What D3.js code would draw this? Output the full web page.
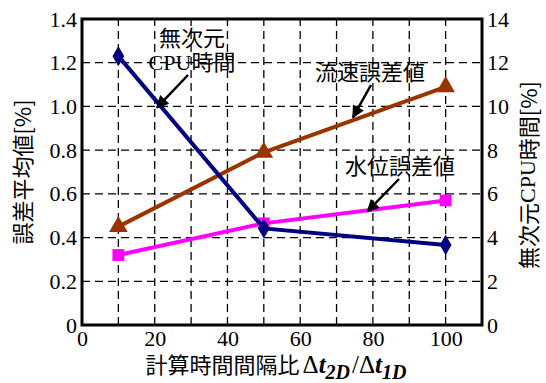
<!DOCTYPE html>
<html>
<head>
<meta charset="utf-8">
<script src="https://cdn.jsdelivr.net/npm/d3@7"></script>
<style>
  html, body { margin: 0; padding: 0; background: #fff; }
  svg { display: block; }
</style>
</head>
<body>
<svg id="chart" width="546" height="383"></svg>
<script>
// Time-step ratio Δt2D/Δt1D
const ratios = [10, 50, 100];
// Mean error [%] (left axis)
const velocityError = [0.45, 0.79, 1.09];   // 流速誤差値
const levelError = [0.32, 0.465, 0.57];     // 水位誤差値
// Dimensionless CPU time [%] (right axis)
const cpuTime = [12.3, 4.42, 3.66];         // 無次元CPU時間

const xTicks = [0, 20, 40, 60, 80, 100];
const xGrid = [10, 20, 30, 40, 50, 60, 70, 80, 90, 100];
const yLeftTicks = [0, 0.2, 0.4, 0.6, 0.8, 1.0, 1.2, 1.4];
const yRightTicks = [0, 2, 4, 6, 8, 10, 12, 14];

const SERIF = '"Liberation Serif", "Times New Roman", Times, serif';
const JP = '"Noto Sans CJK JP", "Noto Sans", sans-serif';

const svg = d3.select("#chart");
const margin = { left: 82, top: 19, right: 64, bottom: 58 };
const W = 546, H = 383;
const x0 = margin.left, x1 = W - margin.right, y0 = H - margin.bottom, y1 = margin.top;

const x = d3.scaleLinear().domain([0, 110]).range([x0, x1]);
const yL = d3.scaleLinear().domain([0, 1.4]).range([y0, y1]);
const yR = d3.scaleLinear().domain([0, 14]).range([y0, y1]);

// dashed grid
const grid = svg.append("g").attr("stroke", "#000").attr("stroke-width", 1.3)
  .attr("stroke-dasharray", "8,5");
grid.selectAll("line.v").data(xGrid).join("line").attr("class", "v")
  .attr("x1", d => x(d)).attr("x2", d => x(d)).attr("y1", y0).attr("y2", y1);
grid.selectAll("line.h").data(yLeftTicks.slice(1, -1)).join("line").attr("class", "h")
  .attr("y1", d => yL(d)).attr("y2", d => yL(d)).attr("x1", x0).attr("x2", x1);

// axes (labels only, frame drawn separately)
const fmtL = d => d === 0 ? "0" : d3.format(".1f")(d);
const gx = svg.append("g").attr("transform", `translate(0,${y0})`)
  .call(d3.axisBottom(x).tickValues(xTicks).tickSize(0).tickPadding(5).tickFormat(d3.format("d")));
const gl = svg.append("g").attr("transform", `translate(${x0},0)`)
  .call(d3.axisLeft(yL).tickValues(yLeftTicks).tickSize(0).tickPadding(5).tickFormat(fmtL));
const gr = svg.append("g").attr("transform", `translate(${x1},0)`)
  .call(d3.axisRight(yR).tickValues(yRightTicks).tickSize(0).tickPadding(5).tickFormat(d3.format("d")));
[gx, gl, gr].forEach(g => {
  g.select(".domain").remove();
  g.attr("font-family", null).attr("font-size", null);
  g.selectAll("text").style("font-family", SERIF).style("font-size", "22px").attr("fill", "#000");
});
gx.selectAll("text").attr("dy", "0.71em");

// series lines
const lineL = d3.line().x(d => x(d[0])).y(d => yL(d[1]));
const lineR = d3.line().x(d => x(d[0])).y(d => yR(d[1]));
const zip = (xs, ys) => xs.map((v, i) => [v, ys[i]]);

const series = [
  { data: zip(ratios, velocityError), line: lineL, y: yL, color: "#993300", sym: d3.symbolTriangle, size: 150 },
  { data: zip(ratios, levelError), line: lineL, y: yL, color: "#ff00ff", sym: d3.symbolSquare, size: 140 },
  { data: zip(ratios, cpuTime), line: lineR, y: yR, color: "#000080", sym: d3.symbolDiamond, size: 120 }
];
series.forEach(s => {
  svg.append("path").datum(s.data).attr("d", s.line)
    .attr("fill", "none").attr("stroke", s.color).attr("stroke-width", 4);
  svg.append("g").selectAll("path").data(s.data).join("path")
    .attr("transform", d => `translate(${x(d[0])},${s.y(d[1])})`)
    .attr("d", d3.symbol().type(s.sym).size(s.size))
    .attr("fill", s.color);
});

// frame
svg.append("rect").attr("x", x0).attr("y", y1).attr("width", x1 - x0).attr("height", y0 - y1)
  .attr("fill", "none").attr("stroke", "#000").attr("stroke-width", 3);

// annotations with arrows
const defs = svg.append("defs");
defs.append("marker").attr("id", "ah").attr("viewBox", "0 0 10 10")
  .attr("refX", 9).attr("refY", 5).attr("markerWidth", 6).attr("markerHeight", 5)
  .attr("orient", "auto")
  .append("path").attr("d", "M0,0 L10,5 L0,10 z").attr("fill", "#000");

function arrow(fx, fy, tx, ty) {
  svg.append("line").attr("x1", fx).attr("y1", fy).attr("x2", tx).attr("y2", ty)
    .attr("stroke", "#000").attr("stroke-width", 2.5).attr("marker-end", "url(#ah)");
}
function jpText(txt, cx, by) {
  return svg.append("text").attr("x", cx).attr("y", by).attr("text-anchor", "middle")
    .style("font-family", JP).style("font-size", "22px").text(txt);
}

// 無次元CPU時間 → CPU line
jpText("無次元", 192, 46);
const cpuLbl = svg.append("text").attr("x", 192).attr("y", 70).attr("text-anchor", "middle")
  .style("font-size", "22px");
cpuLbl.append("tspan").style("font-family", SERIF).text("CPU");
cpuLbl.append("tspan").style("font-family", JP).text("時間");
arrow(188, 75, x(20.6), yR(9.95));

// 流速誤差値 → velocity line
jpText("流速誤差値", 370, 80);
arrow(371, 85, x(74.5), yL(0.95));

// 水位誤差値 → level line
jpText("水位誤差値", 400, 174);
arrow(399, 179, x(78.5), yL(0.52));

// axis titles
svg.append("text").style("font-family", JP).style("font-size", "22px")
  .attr("transform", `translate(21,${(y0 + y1) / 2}) rotate(-90)`)
  .attr("text-anchor", "middle").attr("dominant-baseline", "central")
  .text("誤差平均値[%]");

const rt = svg.append("text").style("font-size", "22px")
  .attr("transform", `translate(527,${(y0 + y1) / 2 + 3}) rotate(-90)`)
  .attr("text-anchor", "middle").attr("dominant-baseline", "central");
rt.append("tspan").style("font-family", JP).text("無次元");
rt.append("tspan").style("font-family", SERIF).text("CPU");
rt.append("tspan").style("font-family", JP).text("時間[%]");

const xt = svg.append("text").attr("x", 276).attr("y", 373).attr("text-anchor", "middle")
  .style("font-size", "22px");
xt.append("tspan").style("font-family", JP).text("計算時間間隔比");
const ser = (t) => t.style("font-family", SERIF).style("font-size", "25px");
ser(xt.append("tspan")).attr("dx", 3).text("Δ");
ser(xt.append("tspan")).style("font-style", "italic").style("font-weight", "bold").text("t");
ser(xt.append("tspan")).style("font-style", "italic").style("font-weight", "bold")
  .style("font-size", "20px").attr("dy", 6).text("2D");
ser(xt.append("tspan")).attr("dy", -6).attr("dx", 2).text("/Δ");
ser(xt.append("tspan")).style("font-style", "italic").style("font-weight", "bold").text("t");
ser(xt.append("tspan")).style("font-style", "italic").style("font-weight", "bold")
  .style("font-size", "20px").attr("dy", 6).text("1D");
</script>
</body>
</html>
